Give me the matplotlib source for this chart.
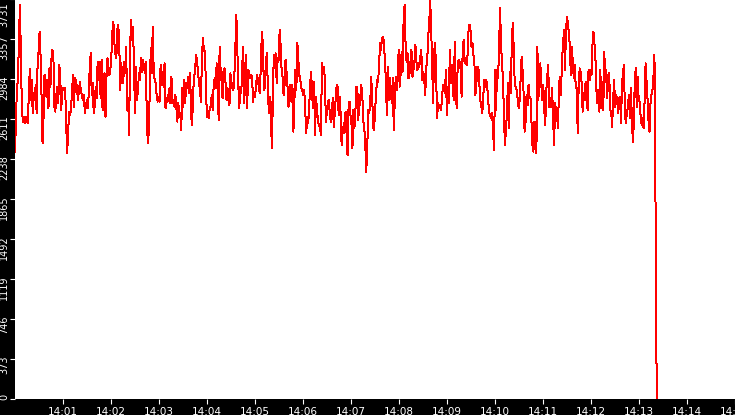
import numpy as np
import pandas as pd
import matplotlib
matplotlib.use("Agg")
import matplotlib.pyplot as plt
import matplotlib.dates as mdates
from matplotlib.transforms import ScaledTranslation

# ---- data ----
seg1 = [2307, 2618, 2913, 2976, 3349, 3675, 3193, 2711, 2587, 2633, 2571, 2633, 2603, 2571,
        2820, 3078, 2789, 2976, 2665, 2851, 2789, 2929, 2665, 3147, 3240, 3427, 3193, 2820,
        2385, 2618, 3022, 2913, 2820, 2976, 2711, 3084, 2913, 3162, 3256, 3209, 2727, 2680,
        2836, 2913, 2758, 3116, 3007, 2696, 2882, 2898, 2882, 2898, 2571, 2291, 2478, 2680,
        2649, 2711, 2882, 3022, 2727, 2991, 2976, 2898, 2789, 2882, 2960, 2867, 2836, 2789,
        2836, 2665, 2727, 2789, 2711, 2851, 3100, 3224, 2836, 2945, 2665, 2727, 2913, 2805, 3147]
seg2 = [2976, 3147, 2805, 3162, 2696, 2929, 3038, 2633, 3007, 3178, 3069, 3022, 3084, 3209,
        3427, 3520, 3318, 3224, 3178, 3442, 3489, 3302, 2882, 3131, 3007, 2945, 3147, 3038,
        3287, 2696, 2805, 2462, 3271, 3536, 3349, 3473, 3053, 2665, 3100, 2789, 2882, 3038,
        2976, 3178, 3053, 3162, 3116, 3038, 3147, 2603, 2385, 2493, 2867, 3271, 3038, 3473,
        3053, 2976, 2945, 2836, 2773, 2820, 2773, 3116, 2929, 3053, 2913, 3131, 2711, 2805,
        2773, 2836, 2898, 2758, 3007, 2758, 2789, 2727, 2836, 2727, 2587, 2758, 2633]
seg3 = [2665, 2509, 2898, 2727, 2976, 2758, 2945, 2898, 3007, 2851, 3038, 2649, 2556, 2836,
        3007, 3053, 3209, 3162, 3038, 2960, 2882, 2773, 3178, 3364, 3256, 3240, 2960, 2633,
        2649, 2618, 2727, 2727, 2836, 2696, 2945, 2991, 2898, 3131, 2945, 2603, 3287, 3069,
        2960, 2805, 3069, 3084, 2945, 2789, 2898, 2820, 2742, 3038, 2898, 2945, 2882, 3022,
        3287, 3582, 3271, 2929, 2711, 2913, 2851, 3116, 3287, 2758, 3007, 3209, 2711, 3069,
        3053, 2991, 3022, 3007, 2773, 2867, 2820, 2929, 3022, 2976]
seg4 = [2898, 2851, 3162, 3427, 3302, 2882, 2913, 3147, 3224, 2913, 2665, 2820, 2758, 2338,
        2727, 3209, 3084, 3224, 2945, 3178, 3162, 3442, 3302, 3069, 3007, 2836, 2929, 3162,
        3053, 2913, 2727, 2898, 2929, 2773, 2929, 2493, 2773, 3069, 2882, 3318, 3162, 3022,
        2976, 2898, 2882, 2836, 2882, 2696, 2478, 2633, 2571, 2711, 2929, 3053, 2836, 2711,
        2960, 2462, 2820, 2696, 2587, 2556, 2540, 2462, 3131, 3053, 3100, 2976, 2587, 2680,
        2773, 2789, 2665, 2587, 2665, 2805, 2540, 2665, 2805, 2929]
seg5 = [2913, 2649, 2820, 2665, 2369, 2540, 2478, 2587, 2680, 2478, 2276, 2696, 2773, 2649,
        2571, 2338, 2696, 2525, 2680, 2913, 2898, 2603, 2836, 2742, 2929, 2836, 2603, 2525,
        2400, 2120, 2307, 2696, 2665, 2727, 3007, 2851, 2540, 2509, 2696, 2836, 2976, 2960,
        3084, 3318, 3256, 3364, 3380, 3333, 3162, 2976, 2649, 3100, 2789, 2991, 2867, 2758,
        2991, 2509, 2773, 3007, 2882, 3022, 3256, 2913, 3038, 3240, 3053, 3536, 3675, 3318,
        3147, 3224, 2991, 3147, 3038, 3256, 3007, 3069, 3147, 3302]
seg6 = [3147, 3069, 3131, 3100, 3193, 3256, 2976, 3053, 2976, 2836, 3100, 3147, 3380, 3489,
        3722, 3473, 3116, 2758, 3240, 3318, 3084, 2618, 2758, 2711, 2742, 2696, 2789, 2929,
        2913, 2851, 3069, 2649, 2913, 2758, 3256, 2945, 3116, 2913, 2789, 3333, 2898, 2711,
        3131, 3162, 3147, 3069, 2820, 3224, 3349, 3131, 3178, 3116, 3209, 3427, 3489, 3442,
        3287, 3318, 3209, 3131, 2836, 2945, 3100, 3100, 2945, 2789, 2727, 2665, 2820, 2976,
        2913, 2976, 2913, 2789, 2665, 2649, 2618, 2665, 2478, 2322, 3069, 2696]
seg7 = [3069, 2991, 3240, 3644, 3349, 3116, 3007, 2649, 2369, 2509, 2649, 2945, 2525, 3053,
        2851, 3333, 3504, 3256, 2929, 2913, 2882, 2789, 2711, 2789, 2991, 3193, 3053, 2851,
        2493, 2587, 2836, 2742, 2929, 2820, 2805, 2587, 2369, 2307, 2587, 2540, 2291, 3287,
        2789, 3022, 3131, 2929, 2789, 2929, 2696, 2556, 2867, 3007, 3116, 2727, 2805, 2727,
        2898, 2603, 2369, 2758, 2680, 2649, 2525, 2929, 3007, 2836, 3162, 3287, 3442, 3069,
        3395, 3567, 3504, 3411, 3287, 3022, 3287, 3147, 2991, 3116, 2913]
seg8 = [2898, 2478, 2945, 3084, 3053, 2945, 2680, 2851, 2789, 2960, 2898, 2696, 3069, 2976,
        3069, 3022, 3302, 3427, 3318, 3178, 2882, 2758, 2882, 2680, 3069, 2711, 2960, 2696,
        3240, 2960, 3069, 2805, 3022, 3038, 2696, 2680, 2540, 2789, 2976, 2727, 2836, 2805,
        2665, 2805, 2820, 2571, 2929, 3053, 3116, 2665, 2571, 2680, 2711, 2836, 2618, 2898,
        2633, 2400, 2556, 2976, 3084, 2727, 3007, 2789, 2773, 2633, 2556, 2618, 2525, 2789,
        3131, 2960, 2789, 2587, 2493, 2758, 2836, 2882, 3007, 3209, 1950, 360, 0]

values = seg1 + seg2 + seg3 + seg4 + seg5 + seg6 + seg7 + seg8
t_start = "2024-01-01 14:00:00"
t_end = "2024-01-01 14:13:23"
times = pd.date_range(t_start, t_end, periods=len(values))

ytick_values = [0, 373.1, 746.2, 1119.3, 1492.4, 1865.5, 2238.6, 2611.7, 2984.8, 3357.9, 3731]
ytick_labels = ["0", "373", "746", "1119", "1492", "1865", "2238", "2611", "2984", "3357", "3731"]
x_min = pd.Timestamp("2024-01-01 14:00:00")
x_max = pd.Timestamp("2024-01-01 14:15:00")

# ---- figure ----
W, H = 735, 415
fig = plt.figure(figsize=(W / 100, H / 100), dpi=100, facecolor="black")
ax = fig.add_axes([15 / W, 16 / H, 720 / W, 400 / H])
ax.set_facecolor("white")
for s in ax.spines.values():
    s.set_visible(False)

ax.plot(times, values, color="#ff0000", lw=0.72, antialiased=False)

ax.set_xlim(x_min, x_max)
ax.set_ylim(0, 3731)

ax.xaxis.set_major_locator(mdates.MinuteLocator(byminute=range(0, 60)))
ax.xaxis.set_major_formatter(mdates.DateFormatter("%H:%M"))
ax.set_yticks(ytick_values)
ax.set_yticklabels(ytick_labels)

ax.tick_params(axis="both", colors="white", labelcolor="white",
               length=3.6, width=0.8, direction="out")
ax.tick_params(axis="x", pad=2.2, labelsize=7.5)
ax.tick_params(axis="y", pad=0.6, labelsize=7)

# hide the 14:00 tick (at the very left edge)
for tick, loc in zip(ax.xaxis.get_major_ticks(), ax.get_xticks()):
    if abs(loc - mdates.date2num(x_min)) < 1e-9:
        tick.set_visible(False)

labels = ax.get_yticklabels()
for i, lbl in enumerate(labels):
    lbl.set_rotation(90)
    lbl.set_horizontalalignment("right")
    if i == 0:
        lbl.set_verticalalignment("bottom")
        dy = -0.01
    elif i == len(labels) - 1:
        lbl.set_verticalalignment("top")
        dy = -0.03
    else:
        lbl.set_verticalalignment("top")
        dy = 0.04
    lbl.set_transform(lbl.get_transform() + ScaledTranslation(0, dy, fig.dpi_scale_trans))

fig.savefig("out.png", dpi=100, facecolor="black")
